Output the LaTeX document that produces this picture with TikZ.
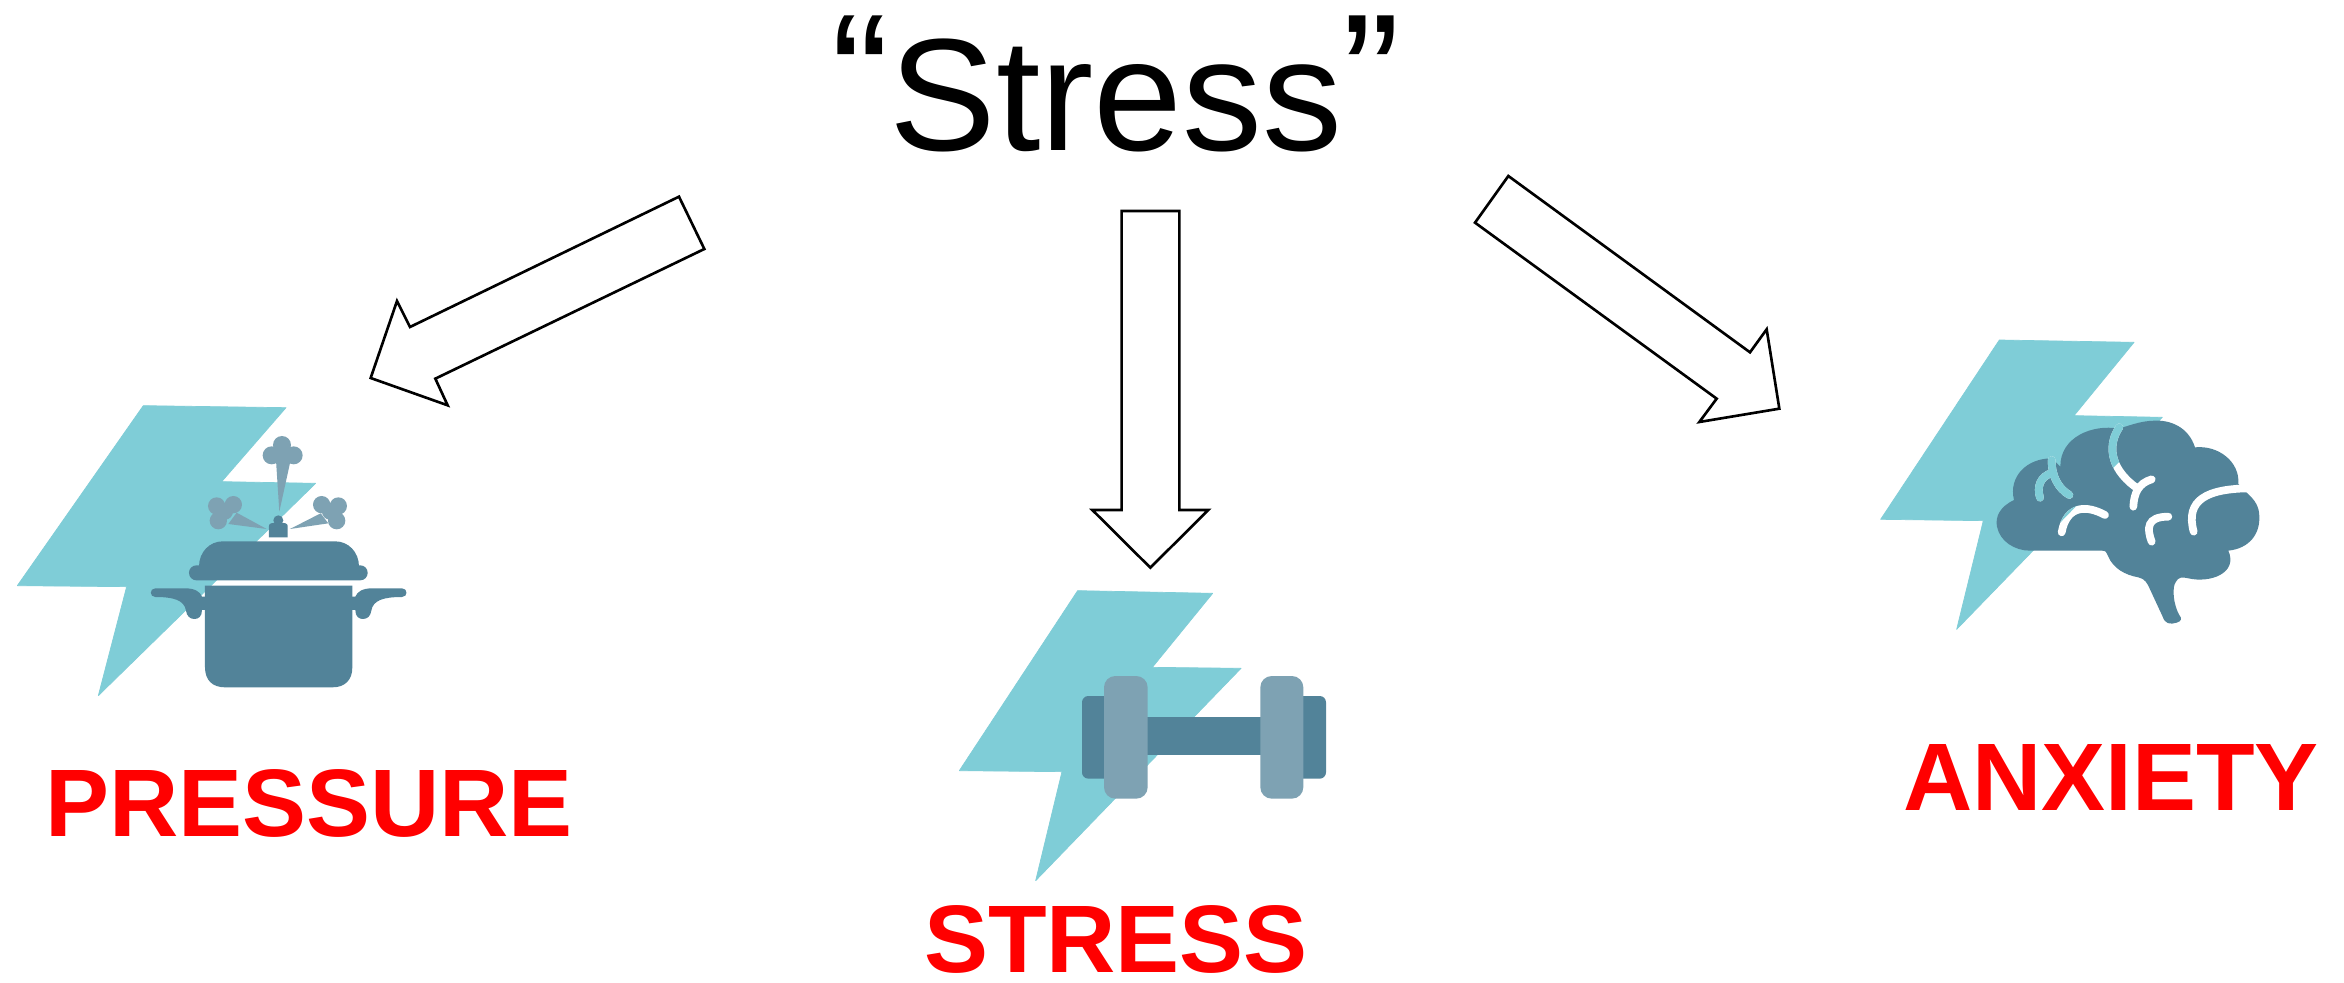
\documentclass[tikz,border=0pt]{standalone}
\usepackage{fontspec}
\setmainfont{Liberation Sans}
\definecolor{bolt}{HTML}{7FCDD7}
\definecolor{dark}{HTML}{528399}
\definecolor{pale}{HTML}{7EA2B3}
\newcommand{\quotemark}[1]{\raisebox{8.4pt}{\fontsize{99}{99}\selectfont #1}}
\tikzset{
  blockarrow/.style={draw=black,fill=white,line width=1.5pt,line join=miter},
  boltshape/.style={fill=bolt,draw=bolt,line width=0.4pt,line join=round},
  darkfill/.style={fill=dark},
  palefill/.style={fill=pale},
  crease/.style={line width=4.4pt,line cap=round},
  labeltext/.style={text=red,font=\bfseries\fontsize{54.6}{54.6}\selectfont,anchor=base,inner sep=0pt},
  zoomed/.style={shift={#1},scale=1/3}
}
\begin{document}
\begin{tikzpicture}[x=0.02cm,y=-0.02cm]
\useasboundingbox (0,0) rectangle (2344,983);
\fill[white] (0,0) rectangle (2344,983);
\node[anchor=base,inner sep=0pt,font=\fontsize{91}{91}\selectfont] (title) at (1116,150.5) {\quotemark{“}Stress\quotemark{”}};
% block arrows
\begin{scope}[zoomed={(350,180)}]
\draw[blockarrow] (987,50)--(1063,207)--(256,596)--(293,676)--(62,594)--(141,363)--(180,441)--cycle;
\end{scope}
\begin{scope}[zoomed={(1070,190)}]
\draw[blockarrow] (155,63)--(328,63)--(328,960)--(415,960)--(241,1133)--(67,960)--(155,960)--cycle;
\end{scope}
\begin{scope}[zoomed={(1450,160)}]
\draw[blockarrow] (175,48)--(900,577)--(950,508)--(988,746)--(748,786)--(800,716)--(75,188)--cycle;
\end{scope}
% pressure icon
\begin{scope}[zoomed={(0,380)}]
\fill[boltshape] (430,77)--(858,83)--(665,305)--(947,310)--(295,947)--(380,620)--(52,617)--cycle;
\fill[palefill] (846,195) circle (27) (815,226) circle (27) (881,226) circle (27) (846,226) circle (20);
\fill[palefill] (828,240)--(872,240)--(838,395)--cycle;
\fill[palefill] (650,378) circle (26) (700,374) circle (26) (655,422) circle (26) (675,395) circle (24);
\fill[palefill] (710,398)--(685,432)--(800,447)--cycle;
\fill[palefill] (965,374) circle (26) (1015,378) circle (26) (1010,422) circle (26) (990,395) circle (24);
\fill[palefill] (962,400)--(985,430)--(870,447)--cycle;
\fill[darkfill] (835,421) circle (15);
\fill[darkfill] (807,472)--(807,438)..controls (807,430) and (815,428) .. (835,428)..controls (855,428) and (863,430) .. (863,438)--(863,472)--cycle;
\fill[darkfill] (597,560)..controls (597,515) and (630,484) .. (668,484)--(1006,484)..controls (1044,484) and (1077,515) .. (1077,560)--cycle;
\fill[darkfill,rounded corners=4.2pt] (567,556) rectangle (1103,601);
\fill[darkfill] (615,617)--(1057,617)--(1057,862)..controls (1057,900) and (1035,922) .. (997,922)--(675,922)..controls (637,922) and (615,900) .. (615,862)--cycle;
\fill[darkfill] (466,625)--(555,625)..controls (585,625) and (600,635) .. (606,650)--(616,650)--(616,690)--(606,690)..controls (606,710) and (595,717) .. (583,717)..controls (570,717) and (560,708) .. (558,692)..controls (553,660) and (520,651) .. (466,651)..controls (448,651) and (448,625) .. (466,625)--cycle;
\fill[darkfill] (1206,625)--(1117,625)..controls (1087,625) and (1072,635) .. (1066,650)--(1056,650)--(1056,690)--(1066,690)..controls (1066,710) and (1077,717) .. (1089,717)..controls (1102,717) and (1112,708) .. (1114,692)..controls (1119,660) and (1152,651) .. (1206,651)..controls (1224,651) and (1224,625) .. (1206,625)--cycle;
\end{scope}
% dumbbell icon
\begin{scope}[zoomed={(940,580)}]
\fill[boltshape] (413,32)--(818,40)--(637,262)--(903,265)--(287,902)--(366,575)--(58,572)--cycle;
\fill[darkfill] (600,410) rectangle (985,525);
\fill[darkfill,rounded corners=3.6pt] (426,348) rectangle (520,596);
\fill[darkfill,rounded corners=3.6pt] (1060,348) rectangle (1158,596);
\fill[palefill,rounded corners=6.5pt] (492,288) rectangle (623,656);
\fill[palefill,rounded corners=6.5pt] (961,288) rectangle (1090,656);
\end{scope}
% brain icon
\begin{scope}[zoomed={(1860,320)}]
\def\boltpath{(418,60)--(822,67)--(642,287)--(907,292)--(290,928)--(370,602)--(62,598)--cycle}
\fill[boltshape] \boltpath;
\fill[darkfill] (510,692)--(725,692)..controls (738,692) and (738,695) .. (745,710)
 ..controls (760,745) and (795,765) .. (835,772)
 ..controls (855,776) and (862,790) .. (870,808)
 --(908,890)..controls (915,912) and (930,914) .. (950,908)
 ..controls (965,904) and (966,895) .. (958,885)
 ..controls (940,855) and (935,800) .. (948,785)
 ..controls (955,772) and (965,770) .. (985,775)
 ..controls (1050,790) and (1135,760) .. (1105,692)
 ..controls (1170,685) and (1200,640) .. (1198,590)
 ..controls (1198,560) and (1185,540) .. (1160,518)
 --(1135,492)..controls (1140,425) and (1075,375) .. (1005,382)
 ..controls (985,320) and (930,300) .. (885,302)
 ..controls (840,302) and (800,320) .. (775,326)
 ..controls (700,312) and (600,350) .. (601,440)
 --(575,415)..controls (500,415) and (445,470) .. (462,540)
 ..controls (420,560) and (405,590) .. (411,620)
 ..controls (420,665) and (465,692) .. (510,692)--cycle;
\def\creases{
 (577,458)..controls (540,470) and (530,500) .. (540,533)
 (575,420)..controls (575,470) and (595,505) .. (628,525)
 (778,322)..controls (745,370) and (745,440) .. (825,500)
 (875,478)..controls (835,490) and (822,520) .. (820,560)
 (735,585)..controls (680,555) and (620,555) .. (605,637)
 (925,590)..controls (860,590) and (860,625) .. (875,665)
 (1001,635)..controls (975,540) and (1040,505) .. (1175,505)}
\draw[crease,white] \creases;
\begin{scope}
\clip \boltpath;
\draw[crease,bolt] \creases;
\end{scope}
\end{scope}
% labels
\node[labeltext] (pressure) at (309,836.5) {PRESSURE};
\node[labeltext] (stress) at (1116,972) {STRESS};
\node[labeltext] (anxiety) at (2111,810.5) {ANXIETY};
\end{tikzpicture}
\end{document}
